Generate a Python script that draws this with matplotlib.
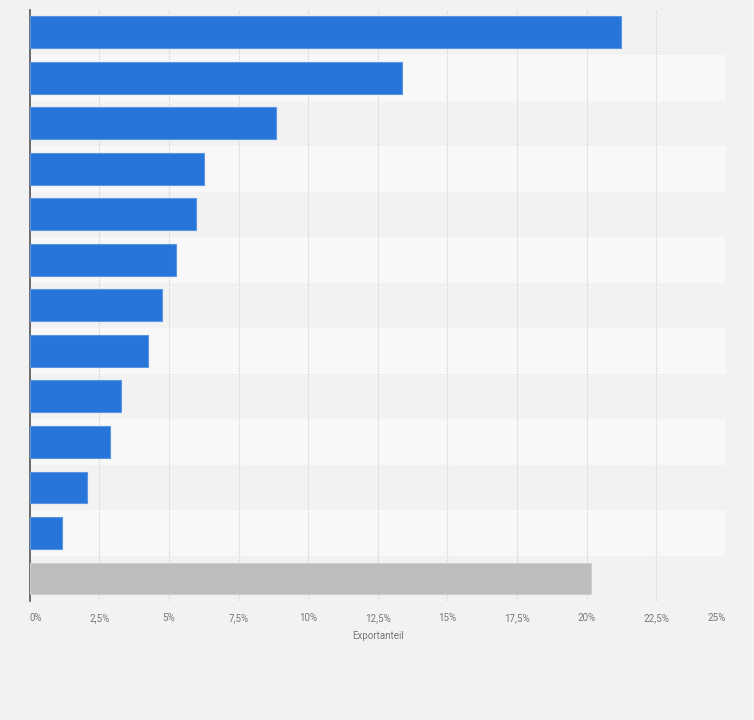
import matplotlib
matplotlib.use("Agg")
import matplotlib.pyplot as plt

values = [21.24, 13.36, 8.86, 6.27, 5.98, 5.25, 4.76, 4.26, 3.28, 2.89, 2.06, 1.16, 20.16]
colors = ["#2775d9"] * 12 + ["#bdbdbd"]
edges = ["#5a96e3"] * 12 + ["#cfcfcf"]
tick_values = [0, 2.5, 5, 7.5, 10, 12.5, 15, 17.5, 20, 22.5, 25]
tick_labels = ["0%", "2,5%", "5%", "7,5%", "10%", "12,5%", "15%", "17,5%", "20%", "22,5%", "25%"]
x_label = "Exportanteil"

plt.rcParams['font.family'] = ['Roboto', 'DejaVu Sans']
fig = plt.figure(figsize=(7.54, 7.2), dpi=100, facecolor="#f2f2f2")
ax = fig.add_axes([0.0394, 0.1649, 0.9231, 0.8219])
ax.set_facecolor("#f2f2f2")

n = len(values)
for i in range(n):
    ax.axhspan(i - 0.5, i + 0.5, color="#f2f2f2" if i % 2 == 0 else "#f8f8f8", zorder=0, lw=0)

ax.barh(range(n), values, height=0.7, color=colors, edgecolor=edges, linewidth=0.8, zorder=3)

ax.set_xlim(0, 25)
ax.set_ylim(n - 0.5, -0.5)
ax.set_xticks(tick_values)
ax.set_xticklabels(tick_labels, color="#777777", fontsize=7)
lbls = ax.get_xticklabels()
lbls[0].set_ha("left")
lbls[-1].set_ha("right")
ax.set_yticks([])
ax.grid(axis="x", color="#d2d2d2", linestyle=(0, (1.2, 1.2)), linewidth=0.8, zorder=1)
ax.tick_params(axis="x", length=0, pad=8.5)
for s in ["top", "right", "bottom"]:
    ax.spines[s].set_visible(False)
ax.spines["left"].set_color("#555555")
ax.spines["left"].set_linewidth(1.2)
ax.set_xlabel(x_label, color="#777777", fontsize=7, labelpad=6)

fig.savefig("out.png", dpi=100, facecolor=fig.get_facecolor())
